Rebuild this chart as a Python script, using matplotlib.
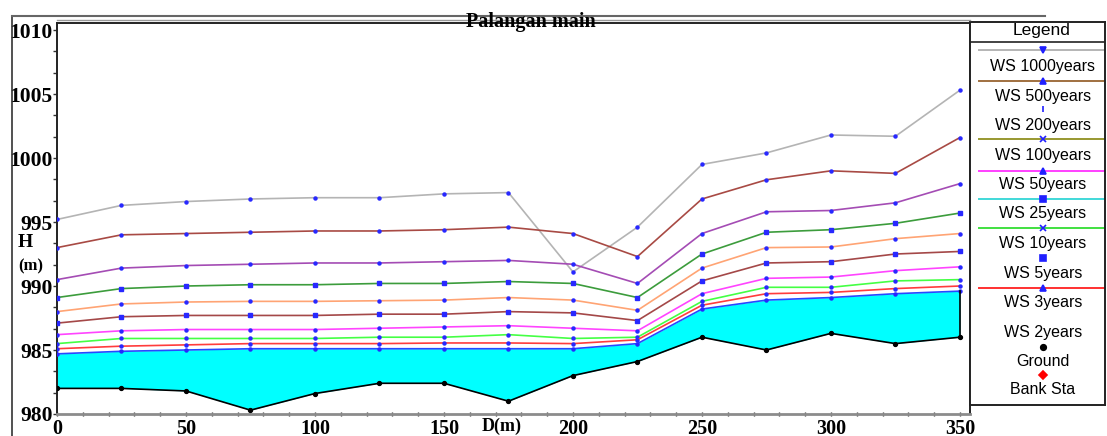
'''
Palangan main - water surface profiles along the reach
'''
import numpy as np
import matplotlib
matplotlib.use("Agg")
from matplotlib import pyplot as plt
from matplotlib.lines import Line2D
from matplotlib.ticker import MultipleLocator

# stations along the reach (m)
stations = [0, 25, 50, 75, 100, 125, 150, 175, 200, 225, 250, 275, 300, 325, 350]

ground = [982.0, 982.0, 981.8, 980.3, 981.6, 982.4, 982.4, 981.0, 983.0, 984.1, 986.0, 985.0, 986.3, 985.5, 986.0]

ws_1000 = [995.2, 996.3, 996.6, 996.8, 996.9, 996.9, 997.2, 997.3, 991.1, 994.6, 999.5, 1000.4, 1001.8, 1001.7, 1005.3]
ws_500 = [993.0, 994.0, 994.1, 994.2, 994.3, 994.3, 994.4, 994.6, 994.1, 992.3, 996.8, 998.3, 999.0, 998.8, 1001.6]
ws_200 = [990.5, 991.4, 991.6, 991.7, 991.8, 991.8, 991.9, 992.0, 991.7, 990.2, 994.1, 995.8, 995.9, 996.5, 998.0]
ws_100 = [989.1, 989.8, 990.0, 990.1, 990.1, 990.2, 990.2, 990.35, 990.2, 989.1, 992.5, 994.2, 994.4, 994.9, 995.7]
ws_50 = [988.0, 988.6, 988.75, 988.8, 988.8, 988.85, 988.9, 989.1, 988.9, 988.1, 991.4, 993.0, 993.05, 993.7, 994.1]
ws_25 = [987.1, 987.6, 987.7, 987.7, 987.7, 987.8, 987.8, 988.0, 987.9, 987.3, 990.4, 991.8, 991.9, 992.5, 992.7]
ws_10 = [986.2, 986.5, 986.6, 986.6, 986.6, 986.7, 986.8, 986.9, 986.7, 986.5, 989.4, 990.6, 990.7, 991.2, 991.5]
ws_5 = [985.5, 985.9, 985.9, 985.9, 985.9, 986.0, 986.0, 986.2, 985.9, 986.0, 988.8, 989.9, 989.9, 990.4, 990.5]
ws_3 = [985.1, 985.3, 985.4, 985.5, 985.5, 985.5, 985.55, 985.55, 985.5, 985.8, 988.5, 989.4, 989.5, 989.8, 990.0]
ws_2 = [984.7, 984.9, 985.0, 985.1, 985.1, 985.1, 985.1, 985.1, 985.1, 985.5, 988.2, 988.9, 989.1, 989.4, 989.6]

profiles = [
    (ws_1000, '#b4b4b4', 'o'),
    (ws_500, '#a84a44', 'o'),
    (ws_200, '#a44cb4', 'o'),
    (ws_100, '#3c9c3c', 's'),
    (ws_50, '#ffa474', 'o'),
    (ws_25, '#a44848', 's'),
    (ws_10, '#ff44ff', 'o'),
    (ws_5, '#44ff44', 'o'),
    (ws_3, '#ff3c3c', 'o'),
    (ws_2, '#2848ff', 'o'),
]

W, H = 1107, 436
fig = plt.figure(figsize=(W / 100, H / 100), dpi=100)

def fx(px):
    return px / W

def fy(py):
    return 1 - py / H

ax = fig.add_axes([fx(57), fy(414), fx(970) - fx(57), fy(23) - fy(414)])

ax.fill_between(stations, ground, ws_2, color='#00ffff', lw=0, zorder=1)
for vals, col, mk in profiles:
    ax.plot(stations, vals, color=col, lw=1.2, marker=mk, ms=2.2,
            mfc='#2828ff', mec='#2828ff', zorder=3)
ax.plot(stations, ground, color='black', lw=1.2, marker='o', ms=2.8, zorder=4)
ax.plot([stations[-1], stations[-1]], [ground[-1], ws_2[-1]], color='black', lw=1.2, zorder=4)

ax.set_xlim(0, 353.9)
ax.set_ylim(980, 1010.55)
ax.xaxis.set_major_locator(MultipleLocator(50))
ax.xaxis.set_minor_locator(MultipleLocator(10))
ax.yaxis.set_major_locator(MultipleLocator(5))
ax.yaxis.set_minor_locator(MultipleLocator(5 / 3))
ax.tick_params(axis='both', which='both', direction='out', length=3, width=1, pad=0, colors='#333333')
ax.tick_params(axis='x', which='both', direction='inout', length=3, pad=2)
for lab in ax.get_xticklabels():
    lab.set_fontfamily('Liberation Serif')
    lab.set_fontweight('bold')
    lab.set_fontsize(14.5)
    lab.set_color('black')
for lab in ax.get_yticklabels():
    lab.set_fontfamily('Liberation Serif')
    lab.set_fontweight('bold')
    lab.set_fontsize(15.5)
    lab.set_color('black')
for sp in ax.spines.values():
    sp.set_linewidth(1.4)
    sp.set_color('#222222')
ax.spines['bottom'].set_color('#8c8c8c')
ax.spines['bottom'].set_linewidth(2)

# outer frame lines
fig.add_artist(Line2D([fx(12), fx(12)], [0, fy(16)], transform=fig.transFigure, color='#333333', lw=1.2))
fig.add_artist(Line2D([fx(12), fx(1045)], [fy(16), fy(16)], transform=fig.transFigure, color='#666666', lw=1.5))
fig.add_artist(Line2D([fx(57), fx(970)], [fy(20), fy(20)], transform=fig.transFigure, color='#999999', lw=1))

fig.text(fx(531), fy(22), 'Palangan main', ha='center', va='center',
         family='Liberation Serif', weight='bold', fontsize=14.5)
fig.text(fx(25), fy(242), 'H', ha='center', va='center',
         family='Liberation Serif', weight='bold', fontsize=14)
fig.text(fx(31), fy(266), '(m)', ha='center', va='center',
         family='Liberation Serif', weight='bold', fontsize=12)
fig.text(fx(502), fy(426), 'D(m)', ha='center', va='center',
         family='Liberation Serif', weight='bold', fontsize=13)

# legend panel (pixel coordinates)
lg = fig.add_axes([fx(970), fy(405), fx(1105) - fx(970), fy(22) - fy(405)])
lg.set_xlim(970, 1105)
lg.set_ylim(405, 22)
lg.set_xticks([])
lg.set_yticks([])
for sp in lg.spines.values():
    sp.set_linewidth(1.4)
    sp.set_color('#222222')
lg.plot([970, 1105], [42, 42], color='#222222', lw=1.2)
lg.text(1042, 31, 'Legend', ha='center', va='center', family='Liberation Sans', fontsize=12.5)

legend_labels = ['WS 1000years', 'WS 500years', 'WS 200years', 'WS 100years', 'WS 50years',
                 'WS 25years', 'WS 10years', 'WS 5years', 'WS 3years', 'WS 2years',
                 'Ground', 'Bank Sta']
legend_text_y = [66, 96, 125, 155, 184, 213, 243, 273, 302, 332, 361, 389]
legend_lines = [
    (50, '#b4b4b4', 'v', '#2020ff'),
    (81, '#a07040', '^', '#2020ff'),
    (109, None, '|', '#2020ff'),
    (139, '#989830', 'x', '#2020ff'),
    (171, '#ff40ff', '^', '#2020ff'),
    (199, '#40d8d8', 's', '#2020ff'),
    (228, '#40e040', 'x', '#2020ff'),
    (258, None, 's', '#2020ff'),
    (288, '#ff3030', '^', '#2020ff'),
    (347, None, 'o', 'black'),
    (375, None, 'D', 'red'),
]
for y, col, mk, mcol in legend_lines:
    if col is not None:
        lg.plot([979, 1105], [y, y], color=col, lw=1.4)
    lg.plot([1043], [y], marker=mk, ms=4, color=mcol, mfc=mcol, mec=mcol, mew=1.2)
for lab, y in zip(legend_labels, legend_text_y):
    lg.text(1043, y, lab, ha='center', va='center', family='Liberation Sans', fontsize=11.5)

plt.savefig('out.png', dpi=100)
plt.close()
